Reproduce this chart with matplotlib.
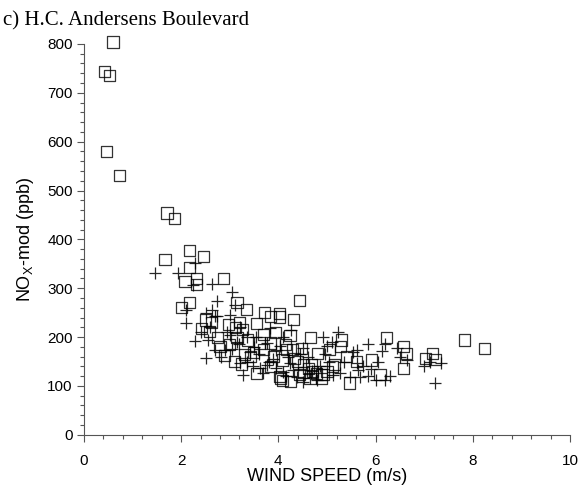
import numpy as np
import matplotlib
matplotlib.use("Agg")
import matplotlib.pyplot as plt
from matplotlib.ticker import MultipleLocator

plt.rcParams['font.family'] = ['Liberation Sans', 'DejaVu Sans']

# modelled NOx, squares
sq_ws = [0.60, 0.42, 0.53, 0.47, 0.73, 1.71, 1.87, 1.67, 2.18, 2.47,
         2.17, 2.08, 2.32, 2.32, 2.87, 2.17, 2.01, 3.15, 3.35, 4.43,
         3.72, 4.02, 3.83, 4.02, 4.31, 3.55, 4.66, 5.06, 5.30, 4.81,
         5.47, 4.08, 4.48, 4.30, 5.12, 4.69, 4.89, 4.51, 4.24, 3.62,
         3.48, 4.09, 6.23, 6.57, 6.64, 5.92, 6.57, 7.02, 7.17, 7.22,
         7.83, 8.24, 6.09, 3.42, 3.69, 3.90, 4.17, 4.51, 4.62, 4.79,
         4.92, 4.44, 4.65, 4.89, 5.16, 5.27, 4.03, 3.55, 3.83, 4.34,
         3.83, 2.42, 2.59, 2.80, 2.97, 3.11, 3.27, 3.37, 2.90, 3.10,
         3.25, 3.00, 3.30, 3.15, 2.50, 2.62, 4.05, 4.25, 5.60, 3.70,
         4.40, 5.00, 3.20, 2.75, 4.15, 4.70, 5.40, 3.95]
sq_nox = [804, 743, 736, 580, 531, 454, 443, 358, 377, 365,
          343, 314, 320, 307, 320, 271, 261, 271, 257, 275,
          250, 249, 243, 241, 236, 228, 200, 174, 194, 167,
          106, 112, 177, 174, 139, 143, 123, 127, 204, 188,
          168, 153, 200, 181, 167, 153, 136, 157, 166, 155,
          194, 177, 123, 160, 174, 160, 174, 143, 136, 126,
          123, 123, 116, 116, 143, 181, 119, 126, 140, 157,
          188, 218, 211, 181, 225, 219, 215, 194, 163, 150,
          145, 185, 165, 200, 235, 230, 115, 110, 150, 205,
          150, 130, 230, 200, 185, 130, 160, 210]

# modelled NOx, plus signs
pl_ws = [1.46, 1.94, 2.28, 2.25, 2.63, 3.04, 2.73, 2.11, 2.63, 2.70,
         3.11, 3.00, 2.11, 2.52, 2.73, 2.28, 2.56, 2.59, 2.52, 2.70,
         2.83, 3.28, 3.00, 3.35, 2.90, 3.21, 3.21, 5.84, 6.19, 6.14,
         6.43, 6.04, 6.64, 7.12, 7.35, 7.22, 5.68, 5.84, 6.00, 6.19,
         5.61, 5.61, 5.23, 4.92, 5.54, 5.27, 5.13, 4.79, 4.65, 4.51,
         4.38, 4.31, 4.10, 3.96, 3.76, 3.62, 3.48, 3.69, 4.24, 4.20,
         3.96, 3.76, 3.55, 4.10, 4.27, 3.83, 4.03, 4.51, 4.99, 5.47,
         5.64, 3.42, 3.05, 3.35, 3.20, 2.95, 4.85, 5.05, 4.60, 3.90,
         4.45, 5.35, 5.75, 6.30, 3.60, 3.15, 4.70, 5.90, 2.40, 3.50,
         4.15, 4.95, 5.10, 3.80, 6.50, 7.00]
pl_nox = [332, 332, 351, 307, 309, 293, 273, 256, 256, 243,
          266, 245, 228, 249, 243, 191, 194, 221, 157, 174,
          160, 123, 204, 201, 174, 147, 221, 186, 186, 172,
          177, 150, 153, 150, 147, 106, 118, 121, 112, 112,
          174, 147, 211, 201, 170, 126, 123, 112, 117, 109,
          119, 133, 129, 136, 143, 136, 140, 126, 147, 160,
          174, 188, 201, 201, 215, 218, 181, 177, 181, 119,
          133, 170, 175, 150, 185, 210, 140, 150, 160, 155,
          165, 150, 140, 120, 165, 190, 130, 135, 210, 180,
          120, 165, 190, 150, 160, 140]

fig = plt.figure(figsize=(5.86, 4.88), dpi=100)
ax = fig.add_axes([0.143, 0.109, 0.830, 0.801])

ax.scatter(sq_ws, sq_nox, marker='s', s=64, facecolors='none',
           edgecolors='black', linewidths=0.9, alpha=0.8, clip_on=False)
ax.scatter(pl_ws, pl_nox, marker='+', s=70, color='black',
           linewidths=0.9, alpha=0.85, clip_on=False)

ax.set_xlim(0, 10)
ax.set_ylim(0, 800)
ax.xaxis.set_major_locator(MultipleLocator(2))
ax.xaxis.set_minor_locator(MultipleLocator(0.4))
ax.yaxis.set_major_locator(MultipleLocator(100))
ax.yaxis.set_minor_locator(MultipleLocator(20))
ax.spines['top'].set_visible(False)
ax.spines['right'].set_visible(False)
ax.spines['left'].set_color('#555555')
ax.spines['bottom'].set_color('#555555')
ax.tick_params(which='major', length=5, width=0.8, labelsize=11, color='#555555')
ax.tick_params(which='minor', length=3, width=0.8, color='#555555')
ax.tick_params(axis='x', which='major', pad=9)
ax.tick_params(axis='y', which='major', pad=3)

ax.set_xlabel('WIND SPEED (m/s)', fontsize=13, labelpad=0)
ax.set_ylabel(r'NO$_\mathregular{X}$-mod (ppb)', fontsize=13, labelpad=8)

fig.text(0.005, 0.978, 'c) H.C. Andersens Boulevard', fontsize=15,
         family=['Liberation Serif', 'DejaVu Serif'], va='top', ha='left')

fig.savefig('out.png', dpi=100)
